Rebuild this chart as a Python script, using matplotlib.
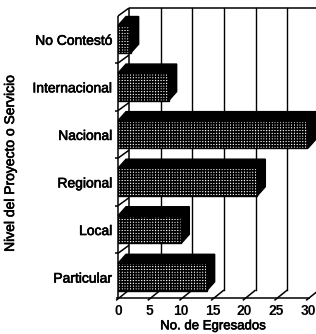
import matplotlib
matplotlib.use("Agg")
import matplotlib.pyplot as plt
import matplotlib.patheffects as pe
from matplotlib.patches import Polygon

categories = ["Particular", "Local", "Regional", "Nacional", "Internacional", "No Contestó"]
values = [14, 10, 22, 30, 8, 2]
xticks = [0, 5, 10, 15, 20, 25, 30]
xlabel = "No. de Egresados"
ylabel = "Nivel del Proyecto o Servicio"

plt.rcParams['font.family'] = ['Liberation Sans', 'DejaVu Sans']
plt.rcParams['hatch.linewidth'] = 1.1
plt.rcParams['hatch.color'] = 'black'

W, H = 316, 334
fig = plt.figure(figsize=(W / 100, H / 100), dpi=100)
ax = fig.add_axes([118 / W, (H - 298) / H, 190 / W, (298 - 16) / H])
ylo, yhi = -0.44, 5.49
ax.set_xlim(0, 30)
ax.set_ylim(ylo, yhi)
for s in ax.spines.values():
    s.set_visible(False)

# depth offsets in data units
dxw, dyw = 11 / 6.333, 8 / 47.5     # walls
dxb, dyb = 8 / 6.333, 9 / 47.5      # bars
h = 0.58

lk = dict(color='black', lw=1.1, clip_on=False, solid_capstyle='butt')
# back wall
ax.plot([0, dxw], [yhi, yhi + dyw], **lk)
ax.plot([dxw, 36], [yhi + dyw, yhi + dyw], **lk)
ax.plot([dxw, dxw], [ylo + dyw, yhi + dyw], **lk)
ax.plot([0, 0], [ylo, yhi], **lk)
for t in xticks[1:]:
    ax.plot([t + dxw, t + dxw], [ylo + dyw, yhi + dyw], color='black', lw=1.0,
            clip_on=False, zorder=1)
# floor
ax.plot([-0.3, 30.3], [ylo, ylo], **lk)
for t in xticks:
    ax.plot([t - 0.3, t + dxw], [ylo - 0.05, ylo + dyw], **lk)
# left wall category separators
for i in range(len(categories) - 1):
    yy = i + 0.5
    ax.plot([-0.5, 0], [yy, yy], **lk)
    ax.plot([0, dxw], [yy, yy + dyw], **lk)

ypos = list(range(len(categories)))
ax.barh(ypos, values, height=h, color='white', edgecolor='black', hatch='++++++',
        lw=1.0, zorder=3)
for y, v in zip(ypos, values):
    top = [(0, y + h / 2), (v, y + h / 2), (v + dxb, y + h / 2 + dyb), (dxb, y + h / 2 + dyb)]
    side = [(v, y - h / 2), (v, y + h / 2), (v + dxb, y + h / 2 + dyb), (v + dxb, y - h / 2 + dyb)]
    ax.add_patch(Polygon(top, closed=True, fc='black', ec='black', lw=1, zorder=4, clip_on=False))
    ax.add_patch(Polygon(side, closed=True, fc='black', ec='black', lw=1, zorder=4, clip_on=False))

thick = [pe.withStroke(linewidth=0.45, foreground='black')]
ax.set_yticks(ypos)
ax.set_yticklabels(categories, fontsize=10)
ax.set_xticks(xticks)
ax.set_xticklabels([str(t) for t in xticks], fontsize=10, fontweight='bold')
ax.tick_params(length=0)
ax.tick_params(axis='y', pad=4)
ax.tick_params(axis='x', pad=4)
for lab in ax.get_yticklabels():
    lab.set_path_effects(thick)
ax.set_xlabel(xlabel, fontsize=9.5, labelpad=2)
ax.xaxis.label.set_path_effects(thick)
yl = fig.text(10 / W, 1 - 163 / H, ylabel, rotation=90, ha='center', va='center',
              fontsize=10)
yl.set_path_effects(thick)

fig.savefig("out.png", dpi=100)
